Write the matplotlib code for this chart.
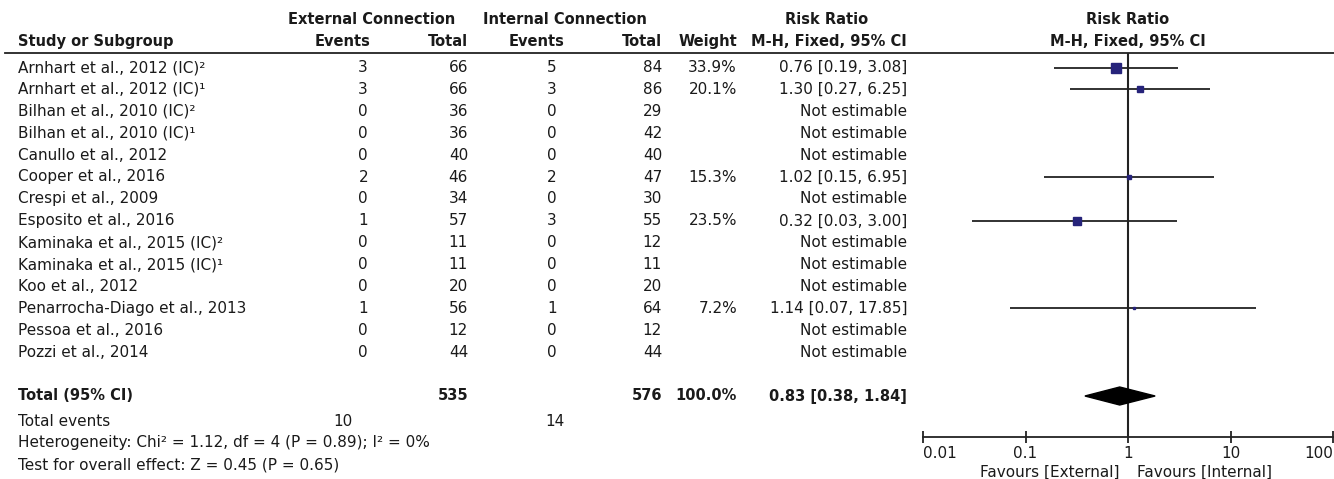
import matplotlib
matplotlib.use("Agg")
import matplotlib.pyplot as plt
from matplotlib.patches import Polygon

W, H = 1334, 479

studies = [
    "Arnhart et al., 2012 (IC)²",
    "Arnhart et al., 2012 (IC)¹",
    "Bilhan et al., 2010 (IC)²",
    "Bilhan et al., 2010 (IC)¹",
    "Canullo et al., 2012",
    "Cooper et al., 2016",
    "Crespi et al., 2009",
    "Esposito et al., 2016",
    "Kaminaka et al., 2015 (IC)²",
    "Kaminaka et al., 2015 (IC)¹",
    "Koo et al., 2012",
    "Penarrocha-Diago et al., 2013",
    "Pessoa et al., 2016",
    "Pozzi et al., 2014",
]
ext_events = [3, 3, 0, 0, 0, 2, 0, 1, 0, 0, 0, 1, 0, 0]
ext_total = [66, 66, 36, 36, 40, 46, 34, 57, 11, 11, 20, 56, 12, 44]
int_events = [5, 3, 0, 0, 0, 2, 0, 3, 0, 0, 0, 1, 0, 0]
int_total = [84, 86, 29, 42, 40, 47, 30, 55, 12, 11, 20, 64, 12, 44]
weight = [33.9, 20.1, None, None, None, 15.3, None, 23.5, None, None, None, 7.2, None, None]
rr = [0.76, 1.30, None, None, None, 1.02, None, 0.32, None, None, None, 1.14, None, None]
ci_lo = [0.19, 0.27, None, None, None, 0.15, None, 0.03, None, None, None, 0.07, None, None]
ci_hi = [3.08, 6.25, None, None, None, 6.95, None, 3.00, None, None, None, 17.85, None, None]

total_ext, total_int = 535, 576
total_ev_ext, total_ev_int = 10, 14
pooled_rr, pooled_lo, pooled_hi = 0.83, 0.38, 1.84
ticks = [0.01, 0.1, 1, 10, 100]
tick_labels = ["0.01", "0.1", "1", "10", "100"]

txt = "#1a1a1a"
ink = "#222222"
box = "#26237a"
fs = 11       # regular text
fs_b = 10.5   # bold text

plt.rcParams["font.family"] = ["DejaVu Sans"]
fig = plt.figure(figsize=(W / 100, H / 100), dpi=100)

# text layer in pixel coordinates
tax = fig.add_axes([0, 0, 1, 1])
tax.set_xlim(0, W)
tax.set_ylim(H, 0)
tax.axis("off")

x_name, x_ee, x_et, x_ie, x_it, x_w, x_ci = 18, 371, 468, 565, 662, 737, 907
row0, step = 67.5, 21.9
rows = [row0 + i * step for i in range(len(studies))]
y_total = row0 + 15 * step

def t(x, y, s, ha="right", bold=False):
    tax.text(x, y, s, ha=ha, va="center", fontsize=fs_b if bold else fs,
             color=txt, fontweight="bold" if bold else "normal")

# headers
t(372, 19, "External Connection", ha="center", bold=True)
t(565, 19, "Internal Connection", ha="center", bold=True)
t(827, 19, "Risk Ratio", ha="center", bold=True)
t(1128, 19, "Risk Ratio", ha="center", bold=True)
t(x_name, 41, "Study or Subgroup", ha="left", bold=True)
t(x_ee, 41, "Events", bold=True)
t(x_et, 41, "Total", bold=True)
t(x_ie, 41, "Events", bold=True)
t(x_it, 41, "Total", bold=True)
t(x_w, 41, "Weight", bold=True)
t(x_ci, 41, "M-H, Fixed, 95% CI", bold=True)
t(1128, 41, "M-H, Fixed, 95% CI", ha="center", bold=True)
tax.plot([5, W], [53, 53], color=ink, lw=1.3)

for i, y in enumerate(rows):
    t(x_name, y, studies[i], ha="left")
    t(x_ee - 3, y, str(ext_events[i]))
    t(x_et, y, str(ext_total[i]))
    t(x_ie - 8, y, str(int_events[i]))
    t(x_it, y, str(int_total[i]))
    if weight[i] is not None:
        t(x_w, y, f"{weight[i]:.1f}%")
        t(x_ci, y, f"{rr[i]:.2f} [{ci_lo[i]:.2f}, {ci_hi[i]:.2f}]")
    else:
        t(x_ci, y, "Not estimable")

t(x_name, y_total, "Total (95% CI)", ha="left", bold=True)
t(x_et, y_total, str(total_ext), bold=True)
t(x_it, y_total, str(total_int), bold=True)
t(x_w, y_total, "100.0%", bold=True)
t(x_ci, y_total, f"{pooled_rr:.2f} [{pooled_lo:.2f}, {pooled_hi:.2f}]", bold=True)
t(x_name, 421, "Total events", ha="left")
t(353, 421, str(total_ev_ext))
t(x_ie, 421, str(total_ev_int))
t(x_name, 443, "Heterogeneity: Chi² = 1.12, df = 4 (P = 0.89); I² = 0%", ha="left")
t(x_name, 465, "Test for overall effect: Z = 0.45 (P = 0.65)", ha="left")

# forest plot panel
ax_l, ax_r, ax_top, ax_bot = 923, 1333, 53, 437
ax = fig.add_axes([ax_l / W, 1 - ax_bot / H, (ax_r - ax_l) / W, (ax_bot - ax_top) / H])
ax.patch.set_alpha(0)
ax.set_xscale("log")
ax.set_xlim(0.01, 100)
ax.set_ylim(ax_bot, ax_top)
for s in ["top", "left", "right"]:
    ax.spines[s].set_visible(False)
ax.spines["bottom"].set_color(ink)
ax.spines["bottom"].set_linewidth(1.3)
ax.set_yticks([])
ax.set_xticks(ticks)
ax.set_xticklabels(tick_labels)
ax.xaxis.set_minor_locator(matplotlib.ticker.NullLocator())
ax.tick_params(axis="x", direction="inout", length=9, width=1.3, color=ink,
               labelsize=fs, labelcolor=txt, pad=2)
labs = ax.get_xticklabels()
labs[0].set_ha("left")
labs[-1].set_ha("right")

ax.axvline(1, color=ink, lw=1.5, zorder=1)

for i, y in enumerate(rows):
    if rr[i] is None:
        continue
    ax.hlines(y, ci_lo[i], ci_hi[i], color=ink, lw=1.3, zorder=2)
    ax.plot(rr[i], y, marker="s", markersize=weight[i] * 0.22,
            color=box, mec=box, zorder=3, clip_on=False)

dh = 9
ax.add_patch(Polygon([(pooled_lo, y_total), (pooled_rr, y_total - dh),
                      (pooled_hi, y_total), (pooled_rr, y_total + dh)],
                     closed=True, color="black", zorder=3))

ax.annotate("Favours [External]", xy=(1, 0), xycoords=("data", "axes fraction"),
            xytext=(-8, -35), textcoords="offset pixels", ha="right", va="center",
            fontsize=fs, color=txt)
ax.annotate("Favours [Internal]", xy=(1, 0), xycoords=("data", "axes fraction"),
            xytext=(9, -35), textcoords="offset pixels", ha="left", va="center",
            fontsize=fs, color=txt)

fig.savefig("out.png", dpi=100)
